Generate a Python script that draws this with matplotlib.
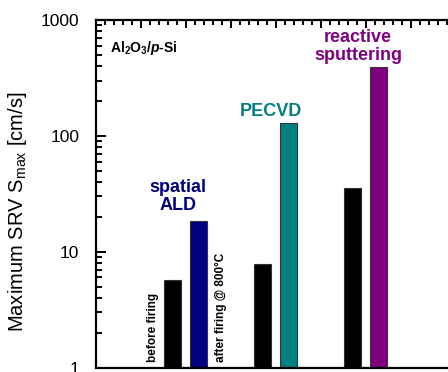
import numpy as np
import matplotlib
matplotlib.use("Agg")
import matplotlib.pyplot as plt
from matplotlib.ticker import MultipleLocator, LogLocator, NullFormatter

plt.rcParams['font.family'] = ['Liberation Sans', 'DejaVu Sans']
plt.rcParams['mathtext.fontset'] = 'custom'
plt.rcParams['mathtext.rm'] = 'Liberation Sans'
plt.rcParams['mathtext.bf'] = 'Liberation Sans:bold'
plt.rcParams['mathtext.it'] = 'Liberation Sans:italic'
plt.rcParams['mathtext.bfit'] = 'Liberation Sans:bold:italic'

# data
groups = ['spatial\nALD', 'PECVD', 'reactive\nsputtering']
group_pos = [2, 4, 6]
before_firing = [5.7, 7.8, 35.5]
after_firing = [18.5, 130, 394]
colors = ['#000080', '#008080', '#800080']

fig = plt.figure(figsize=(4.48, 3.72), dpi=100)
W, H = 448.0, 372.0
ax = fig.add_axes([96 / W, 4.5 / H, 360 / W, 347.5 / H])
ax.set_yscale('log')

pos = np.array(group_pos, dtype=float)
ax.bar(pos - 0.3, before_firing, width=0.39, color='black', edgecolor='#333333', lw=0.8, zorder=2)
ax.bar(pos + 0.28, after_firing, width=0.39, color=colors, edgecolor='#333333', lw=0.8, zorder=2)

ax.set_xlim(0, 8)
ax.set_ylim(1, 1000)

# axis styling
for s in ax.spines.values():
    s.set_linewidth(1.6)
ax.xaxis.set_major_locator(MultipleLocator(1))
ax.xaxis.set_minor_locator(MultipleLocator(0.2))
ax.xaxis.set_ticks_position('top')
ax.tick_params(axis='x', which='both', direction='in', width=1.4, labeltop=False, labelbottom=False)
ax.tick_params(axis='x', which='major', length=6)
ax.tick_params(axis='x', which='minor', length=3.5)
ax.set_yticks([1, 10, 100, 1000])
ax.set_yticklabels(['1', '10', '100', '1000'])
ax.yaxis.set_minor_locator(LogLocator(base=10, subs=np.arange(2, 10), numticks=10))
ax.yaxis.set_minor_formatter(NullFormatter())
ax.yaxis.set_ticks_position('left')
ax.tick_params(axis='y', which='both', direction='in', width=1.4, labelsize=12.5, pad=12)
ax.tick_params(axis='y', which='major', length=7)
ax.tick_params(axis='y', which='minor', length=4)

fig.text(18 / W, 1 - 212 / H, r'Maximum SRV S$_{\mathregular{max}}$ [cm/s]', rotation=90,
         ha='center', va='center', fontsize=14.5)

# annotations
ax.text(0.31, 574, r'$\mathbf{Al_2O_3}$/$\mathbfit{p}$-Si', fontsize=10, fontweight='bold',
        ha='left', va='center')
label_y = [30, 161, 591]
for g, x, c, ly in zip(groups, [1.82, 3.89, 5.82], colors, label_y):
    ax.text(x, ly, g, color=c, fontsize=13, fontweight='bold', ha='center', va='center',
            linespacing=1.05)

ax.text(1.27, 1.116, 'before firing', rotation=90, ha='center', va='bottom',
        fontsize=8.5, fontweight='bold')
ax.text(2.78, 1.116, 'after firing @ 800°C', rotation=90, ha='center', va='bottom',
        fontsize=8.5, fontweight='bold')

fig.savefig('out.png', dpi=100)
